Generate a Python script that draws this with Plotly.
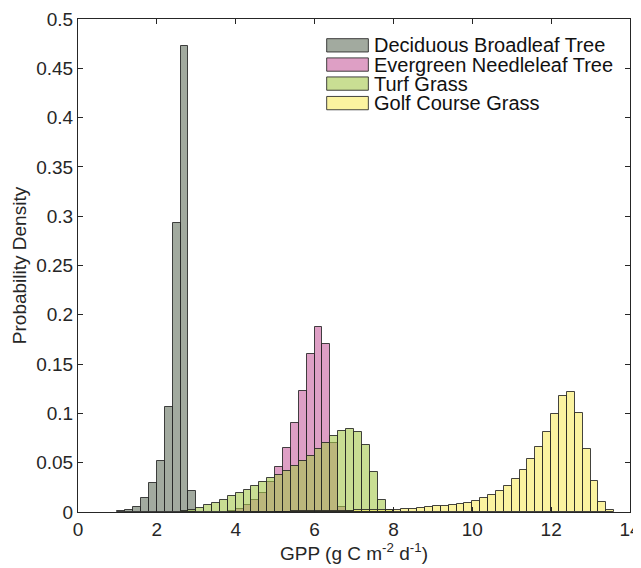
import numpy as np
import plotly.graph_objects as go

bin_width = 0.2

series_names = ["Deciduous Broadleaf Tree", "Evergreen Needleleaf Tree", "Turf Grass", "Golf Course Grass"]

dbt_first_edge = 1.0
dbt_vals = [0.001, 0.0024, 0.0055, 0.0147, 0.029, 0.052, 0.106, 0.293, 0.473, 0.021]

ent_first_edge = 3.8
ent_vals = [0.001, 0.003, 0.0076, 0.0124, 0.0195, 0.030, 0.046, 0.065, 0.0906, 0.1227,
            0.160, 0.1876, 0.170, 0.070, 0.005, 0.001]

turf_first_edge = 2.6
turf_vals = [0.001, 0.002, 0.004, 0.0068, 0.0095, 0.0125, 0.016, 0.0195, 0.0225, 0.026,
             0.030, 0.034, 0.038, 0.0415, 0.0465, 0.0516, 0.057, 0.0635, 0.070, 0.077,
             0.0824, 0.0845, 0.081, 0.0678, 0.041, 0.0124, 0.002]

golf_first_edge = 5.0
golf_vals = [0.0005, 0.0005, 0.0007, 0.0008, 0.001, 0.001, 0.0012, 0.0013, 0.0014, 0.0015,
             0.0016, 0.0017, 0.0018, 0.002, 0.0021, 0.0024, 0.0027, 0.0034, 0.0044, 0.0051,
             0.0058, 0.0064, 0.0074, 0.0085, 0.0095, 0.0115, 0.0142, 0.0176, 0.0217, 0.0267,
             0.0335, 0.043, 0.054, 0.0657, 0.0816, 0.0995, 0.1178, 0.1218, 0.1005, 0.0643,
             0.0311, 0.0098, 0.0017]

x_tick_vals = [0, 2, 4, 6, 8, 10, 12, 14]
y_tick_vals = [0, 0.05, 0.1, 0.15, 0.2, 0.25, 0.3, 0.35, 0.4, 0.45, 0.5]
y_tick_text = ["0", "0.05", "0.1", "0.15", "0.2", "0.25", "0.3", "0.35", "0.4", "0.45", "0.5"]

fill_colors = ["rgba(100,113,95,0.6)", "rgba(200,95,158,0.6)", "rgba(165,200,75,0.6)", "rgba(248,235,97,0.6)"]
edge_color = "rgba(35,35,35,0.85)"
FONT = "Liberation Sans, Arial, Helvetica, sans-serif"

series = [
    (dbt_first_edge, dbt_vals),
    (ent_first_edge, ent_vals),
    (turf_first_edge, turf_vals),
    (golf_first_edge, golf_vals),
]

fig = go.Figure()
for (first, vals), name, col in zip(series, series_names, fill_colors):
    centers = first + bin_width * (np.arange(len(vals)) + 0.5)
    fig.add_trace(go.Bar(
        x=centers, y=vals, width=bin_width, name=name,
        marker=dict(color=col, line=dict(color=edge_color, width=1)),
        showlegend=False,
    ))

# Legend (drawn manually to match the compact MATLAB-style legend)
row_y = [0.9466, 0.9076, 0.8690, 0.8294]
half_h = 0.0135
for name, col, yy in zip(series_names, fill_colors, row_y):
    fig.add_shape(type="rect", xref="paper", yref="paper",
                  x0=0.4505, x1=0.526, y0=yy - half_h, y1=yy + half_h,
                  fillcolor=col, line=dict(color=edge_color, width=1))
    fig.add_annotation(xref="paper", yref="paper", x=0.533, y=yy,
                       text=name, showarrow=False, xanchor="left", yanchor="middle",
                       font=dict(family=FONT, size=20, color="#111111"))

axis_common = dict(
    showline=True, linecolor="#262626", linewidth=1, mirror="ticks",
    ticks="inside", ticklen=5, tickcolor="#262626", tickwidth=1,
    showgrid=False, zeroline=False, automargin=False,
    tickfont=dict(family=FONT, size=19, color="#262626"),
)

# The page body adds an 8px margin, so the figure is 8px smaller on each axis
fig.update_layout(
    width=633, height=560,
    margin=dict(l=70, r=11, t=11, b=56),
    paper_bgcolor="white", plot_bgcolor="white",
    barmode="overlay", bargap=0,
    xaxis=dict(range=[0, 14], tickvals=x_tick_vals,
               title=dict(text="GPP (g C m<sup>-2</sup> d<sup>-1</sup>)", standoff=0,
                          font=dict(family=FONT, size=19, color="#262626")),
               **axis_common),
    yaxis=dict(range=[0, 0.5], tickvals=y_tick_vals, ticktext=y_tick_text,
               title=dict(text="Probability Density", standoff=4,
                          font=dict(family=FONT, size=19, color="#262626")),
               **axis_common),
)

fig.write_html("out.html")
